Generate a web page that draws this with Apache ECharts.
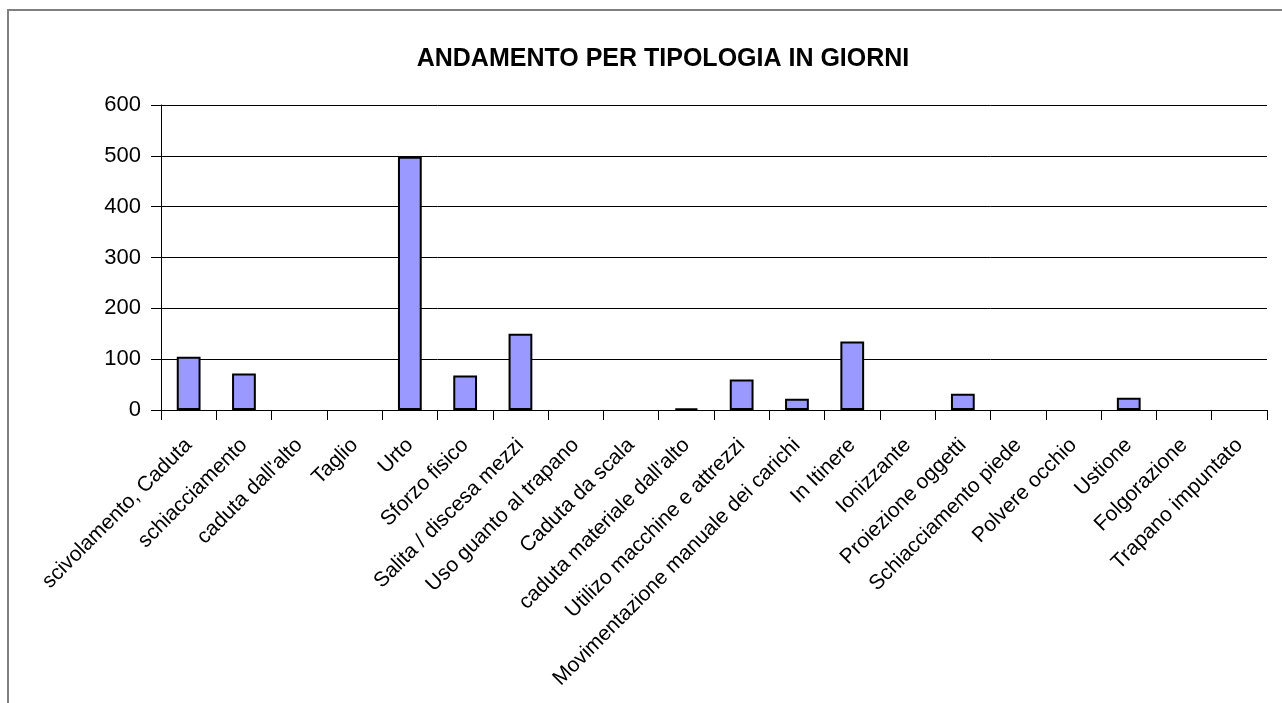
<!DOCTYPE html>
<html>
<head>
<meta charset="utf-8">
<script src="https://cdn.jsdelivr.net/npm/echarts@6/dist/echarts.min.js"></script>
<style>
  html, body { margin: 0; padding: 0; background: #fff; }
  #main { width: 1282px; height: 703px; }
</style>
</head>
<body>
<div id="main"></div>
<script>
// categorie (tipologia infortunio)
var categorie = [
  'scivolamento, Caduta', 'schiacciamento', "caduta dall'alto", 'Taglio', 'Urto',
  'Sforzo fisico', 'Salita / discesa mezzi', 'Uso guanto al trapano', 'Caduta da scala',
  "caduta materiale dall'alto", 'Utilizo macchine e attrezzi',
  'Movimentazione manuale dei carichi', 'In Itinere', 'Ionizzante', 'Proiezione oggetti',
  'Schiacciamento piede', 'Polvere occhio', 'Ustione', 'Folgorazione', 'Trapano impuntato'
];
// giorni per tipologia
var giorni = [105, 72, 0, 0, 498, 68, 150, 0, 0, 3, 60, 22, 135, 0, 32, 0, 0, 24, 0, 0];
var yTicks = [0, 100, 200, 300, 400, 500, 600];

var FONT = 'Liberation Sans, Arial, sans-serif';
var myChart = echarts.init(document.getElementById('main'));

// i valori a zero non hanno bordo (come in Excel)
var barData = giorni.map(function (v) {
  return v === 0 ? { value: v, itemStyle: { borderWidth: 0 } } : v;
});

var option = {
  animation: false,
  backgroundColor: '#fff',
  textStyle: { fontFamily: FONT },
  title: {
    text: 'ANDAMENTO PER TIPOLOGIA IN GIORNI',
    left: 658,
    textAlign: 'center',
    top: 42,
    textStyle: { color: '#000', fontSize: 25, fontWeight: 'bold', fontFamily: FONT }
  },
  graphic: [{
    type: 'rect',
    shape: { x: 8, y: 10, width: 1300, height: 720 },
    style: { fill: 'none', stroke: '#808080', lineWidth: 2 },
    silent: true
  }],
  grid: { left: 161, right: 15, top: 105, bottom: 293, containLabel: false },
  xAxis: {
    type: 'category',
    data: categorie,
    boundaryGap: true,
    axisLine: { lineStyle: { color: '#000', width: 1 } },
    axisTick: { show: true, alignWithLabel: false, length: 10, lineStyle: { color: '#000' } },
    axisLabel: {
      interval: 0,
      rotate: 45,
      margin: 32,
      color: '#000',
      fontSize: 21,
      fontFamily: FONT
    }
  },
  yAxis: {
    type: 'value',
    min: yTicks[0],
    max: yTicks[yTicks.length - 1],
    interval: 100,
    axisLine: { show: true, lineStyle: { color: '#000', width: 1 } },
    axisTick: { show: true, length: 10, lineStyle: { color: '#000' } },
    axisLabel: { color: '#000', fontSize: 22, margin: 20, fontFamily: FONT },
    splitLine: { show: true, lineStyle: { color: '#000', width: 1 } }
  },
  series: [{
    name: 'giorni',
    type: 'bar',
    data: barData,
    barWidth: '43%',
    itemStyle: { color: '#9999FF', borderColor: '#000', borderWidth: 2 }
  }]
};

myChart.setOption(option);
</script>
</body>
</html>
